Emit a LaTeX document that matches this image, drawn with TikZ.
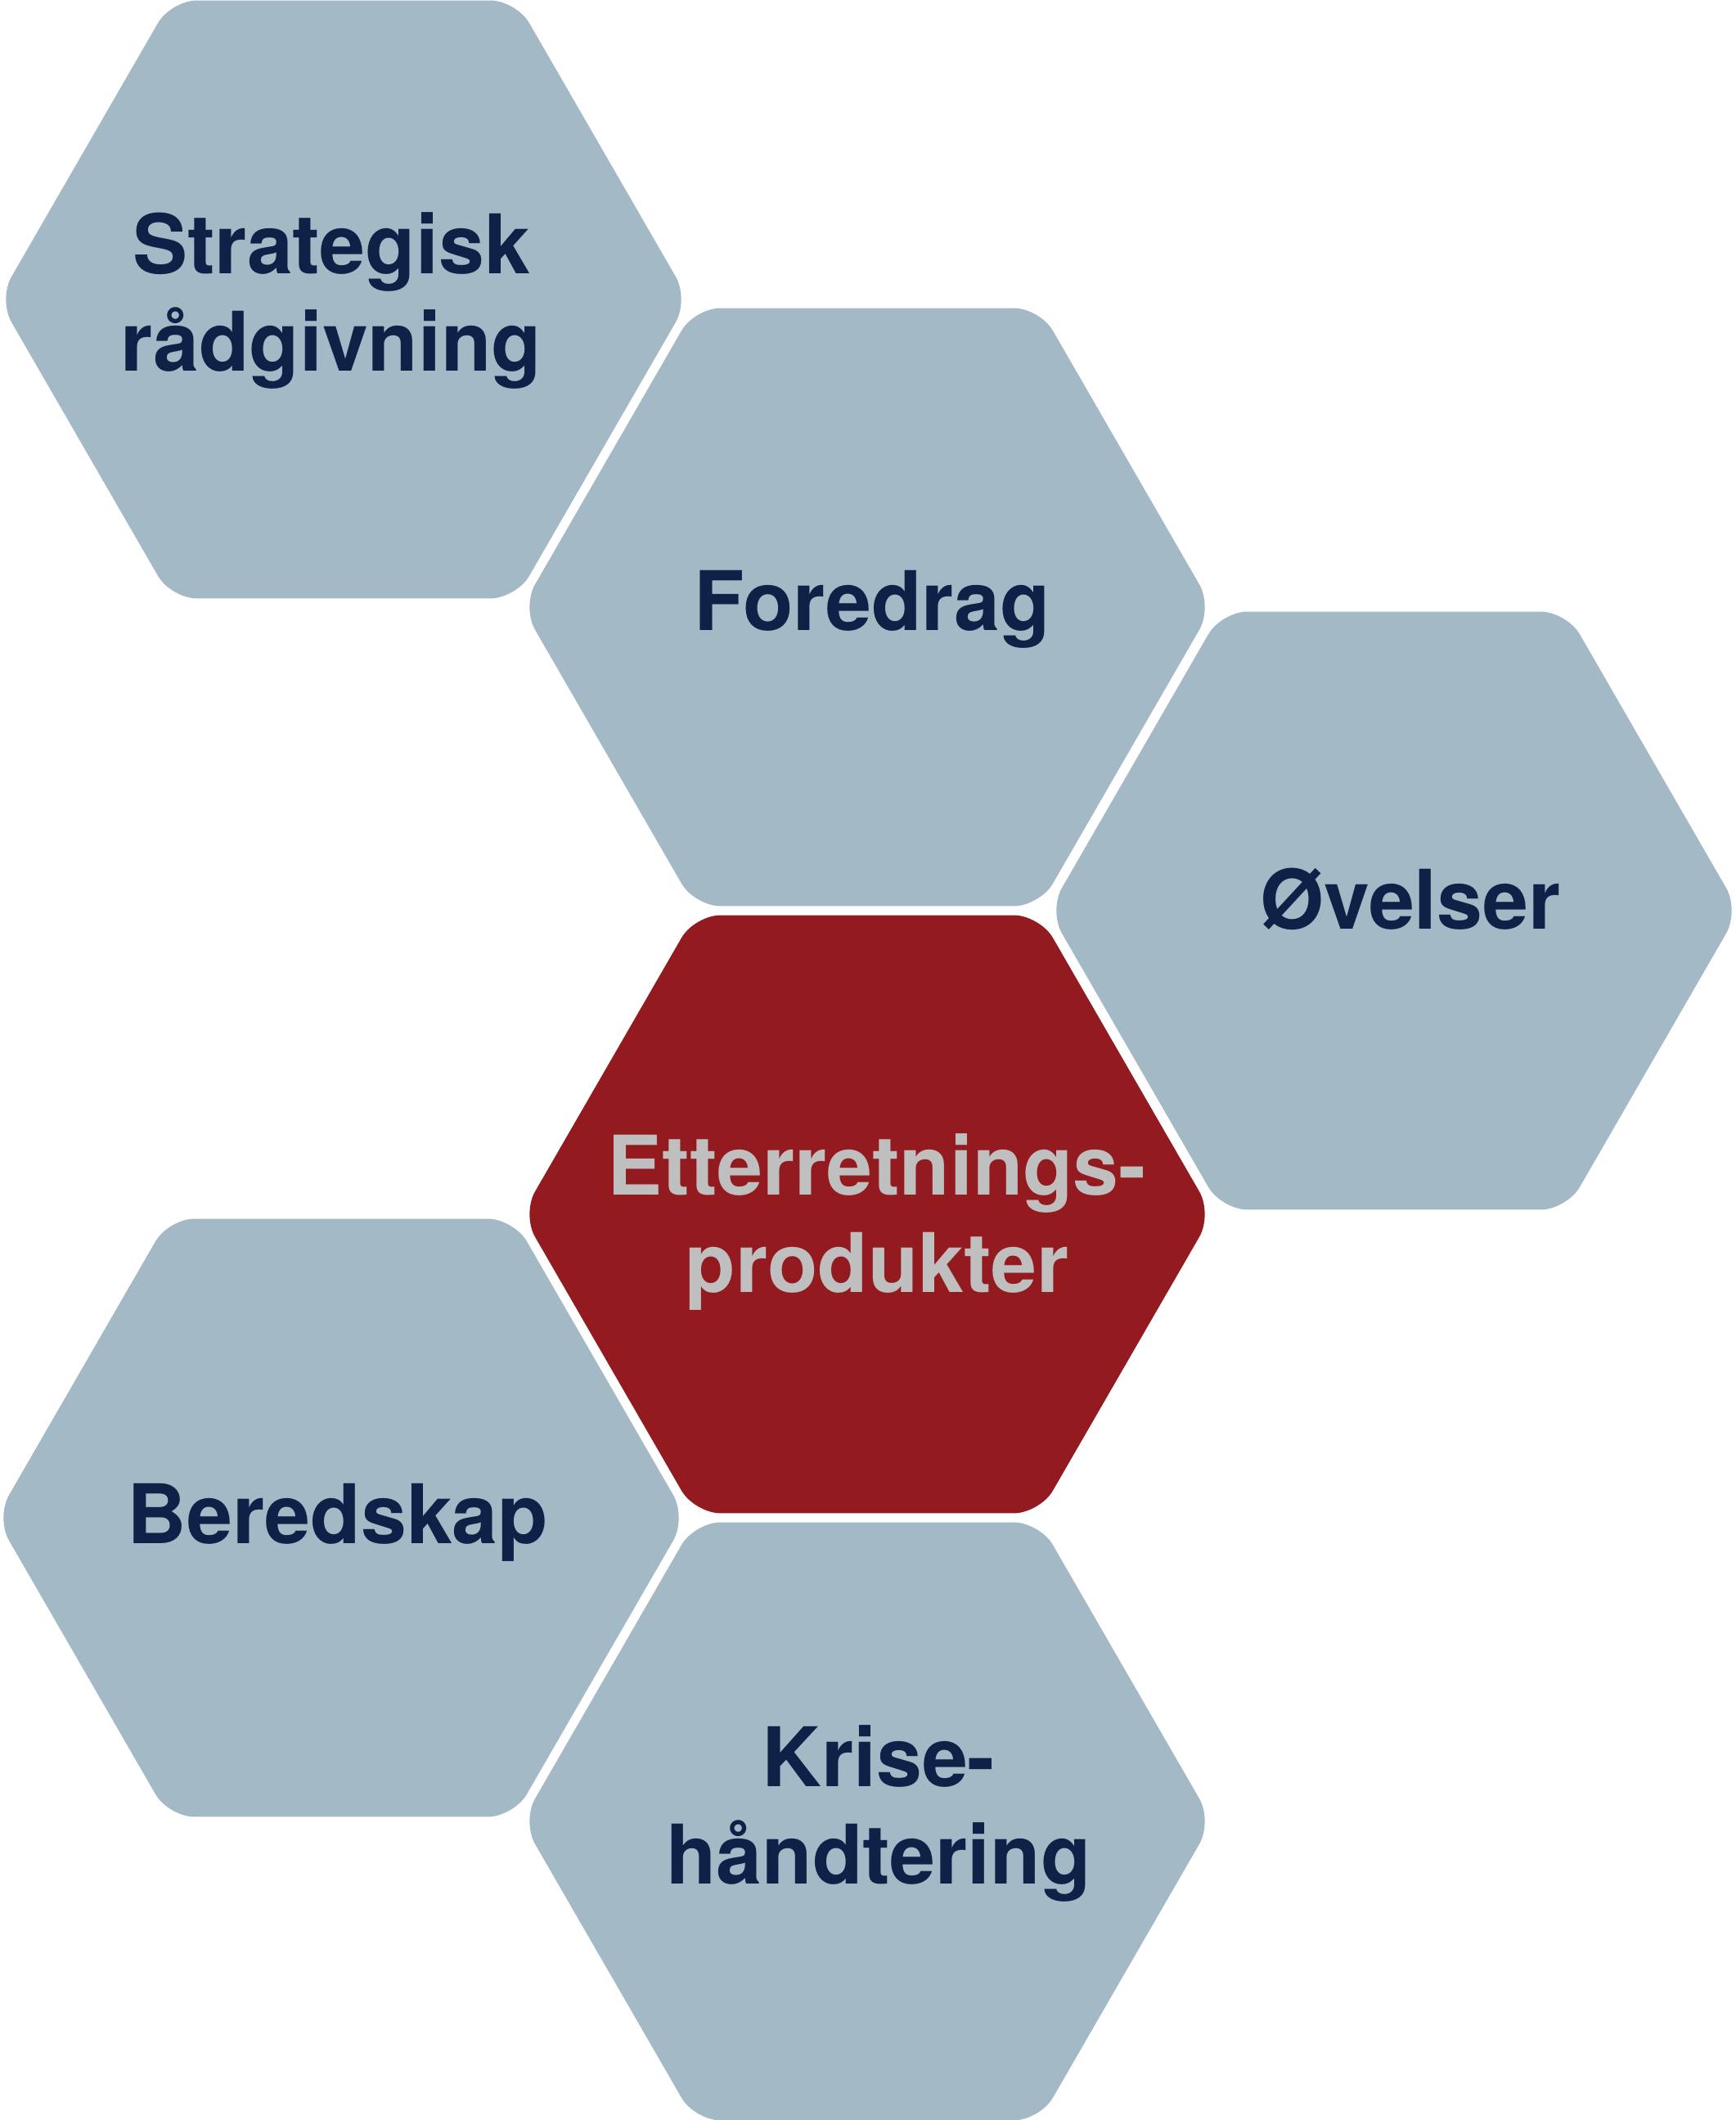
\documentclass[tikz,border=0pt]{standalone}
\usepackage{fontspec}
\setmainfont{TeX Gyre Heros}
\definecolor{hexblue}{HTML}{A3BAC6}
\definecolor{hexred}{HTML}{931B1F}
\definecolor{navyink}{HTML}{0F2146}
\definecolor{greyink}{HTML}{C0BFBF}
\newcommand\hexat[2]{%
  \fill[#2, rounded corners=0.32cm]
    ([shift={(0:4.22)}]#1) -- ([shift={(60:4.22)}]#1) -- ([shift={(120:4.22)}]#1) --
    ([shift={(180:4.22)}]#1) -- ([shift={(240:4.22)}]#1) -- ([shift={(300:4.22)}]#1) -- cycle;}
\tikzset{
  hexlabel/.style={anchor=base, align=center, inner sep=0pt,
    font=\fontsize{28.6}{34.1}\selectfont\bfseries},
  bluelabel/.style={hexlabel, text=navyink},
  redlabel/.style={hexlabel, text=greyink}
}
\begin{document}
\begin{tikzpicture}
\fill[white] (0,0) rectangle (21.22,25.91);
\useasboundingbox (0,0) rectangle (21.22,25.91);
% hexagon centres
\coordinate (c1) at (4.20,22.25);
\coordinate (c2) at (10.60,18.49);
\coordinate (c3) at (17.04,14.78);
\coordinate (c4) at (10.60,11.07);
\coordinate (c5) at (4.17,7.36);
\coordinate (c6) at (10.60,3.65);
\hexat{c1}{hexblue}
\hexat{c2}{hexblue}
\hexat{c3}{hexblue}
\hexat{c4}{hexred}
\hexat{c5}{hexblue}
\hexat{c6}{hexblue}
% labels (anchor=base is the baseline of the last line)
\node[bluelabel] (t1) at (4.05,21.37) {Strategisk\\rådgivning};
\node[bluelabel] (t2) at (10.66,18.20) {Foredrag};
\node[bluelabel] (t3) at (17.24,14.55) {Øvelser};
\node[redlabel]  (t4) at (10.72,10.11) {Etterretnings-\\produkter};
\node[bluelabel] (t5) at (4.13,7.04) {Beredskap};
\node[bluelabel] (t6) at (10.74,2.88) {Krise-\\håndtering};
\end{tikzpicture}
\end{document}
